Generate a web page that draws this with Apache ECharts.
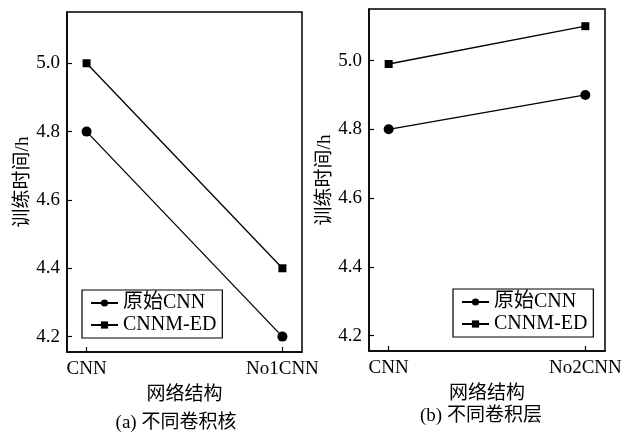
<!DOCTYPE html>
<html>
<head>
<meta charset="utf-8">
<script src="https://cdn.jsdelivr.net/npm/echarts@6/dist/echarts.min.js"></script>
<style>html,body{margin:0;padding:0;background:#fff}#c{width:625px;height:434px}</style>
</head>
<body>
<div id="c"></div>
<script>
const catsA = ['CNN', 'No1CNN'];
const catsB = ['CNN', 'No2CNN'];
const seriesNames = ['原始CNN', 'CNNM-ED'];
const aOrig = [4.8, 4.2];
const aED = [5.0, 4.4];
const bOrig = [4.8, 4.9];
const bED = [4.99, 5.10];
const yTicks = [4.2, 4.4, 4.6, 4.8, 5.0];
const yName = '训练时间/h';
const xName = '网络结构';
const subA = '(a) 不同卷积核';
const subB = '(b) 不同卷积层';

const FONT = '"Liberation Serif", "Noto Sans CJK SC", serif';
const chart = echarts.init(document.getElementById('c'), null, {renderer: 'canvas'});

function xAxis(gi, cats) {
  return {
    type: 'value', gridIndex: gi, min: -0.1, max: 1.1,
    name: xName, nameLocation: 'middle', nameGap: 34,
    nameTextStyle: {color: '#000', fontSize: 19, fontFamily: FONT},
    axisLine: {show: true, onZero: false, lineStyle: {color: '#000', width: 1.5}},
    axisTick: {show: true, inside: true, length: 5, customValues: [0, 1], lineStyle: {color: '#000', width: 1.2}},
    axisLabel: {customValues: [0, 1], margin: 8, color: '#000', fontSize: 19, fontFamily: FONT,
      formatter: v => cats[Math.round(v)]},
    splitLine: {show: false}
  };
}
function yAxis(gi) {
  return {
    type: 'value', gridIndex: gi, min: 4.155, max: 5.15,
    name: yName, nameLocation: 'middle', nameGap: 32,
    nameTextStyle: {color: '#000', fontSize: 19, fontFamily: FONT},
    axisLine: {show: true, onZero: false, lineStyle: {color: '#000', width: 1.5}},
    axisTick: {show: true, inside: true, length: 5, customValues: yTicks, lineStyle: {color: '#000', width: 1.2}},
    axisLabel: {customValues: yTicks, margin: 7, color: '#000', fontSize: 19, fontFamily: FONT,
      formatter: v => v.toFixed(1)},
    splitLine: {show: false}
  };
}
function line(name, data, gi, sym) {
  return {
    name: name, type: 'line', xAxisIndex: gi, yAxisIndex: gi,
    data: data.map((v, i) => [i, v]),
    symbol: sym, symbolSize: sym === 'circle' ? 10 : 8, showSymbol: true,
    lineStyle: {color: '#000', width: 1.3},
    itemStyle: {color: '#000'},
    animation: false
  };
}
function legend(left, top) {
  return {
    left: left, top: top, orient: 'vertical',
    data: seriesNames,
    itemWidth: 27, itemHeight: 9, itemGap: 2,
    padding: [3, 6, 3, 8],
    borderColor: '#000', borderWidth: 1.2,
    textStyle: {color: '#000', fontSize: 20, fontFamily: FONT},
    selectedMode: false
  };
}

chart.setOption({
  backgroundColor: '#fff',
  animation: false,
  grid: [
    {left: 67, top: 12, width: 235, height: 340, show: true, borderColor: '#000', borderWidth: 1.5, backgroundColor: 'transparent'},
    {left: 369, top: 9, width: 236, height: 342, show: true, borderColor: '#000', borderWidth: 1.5, backgroundColor: 'transparent'}
  ],
  xAxis: [xAxis(0, catsA), xAxis(1, catsB)],
  yAxis: [yAxis(0), yAxis(1)],
  legend: [legend(82, 290), legend(453, 289)],
  series: [
    line(seriesNames[0], aOrig, 0, 'circle'),
    line(seriesNames[1], aED, 0, 'rect'),
    line(seriesNames[0], bOrig, 1, 'circle'),
    line(seriesNames[1], bED, 1, 'rect')
  ],
  graphic: [
    {type: 'text', style: {text: subA, fontSize: 19, fontFamily: FONT, fill: '#000', textAlign: 'center'}, x: 176, y: 414},
    {type: 'text', style: {text: subB, fontSize: 19, fontFamily: FONT, fill: '#000', textAlign: 'center'}, x: 481, y: 407}
  ]
});
</script>
</body>
</html>
